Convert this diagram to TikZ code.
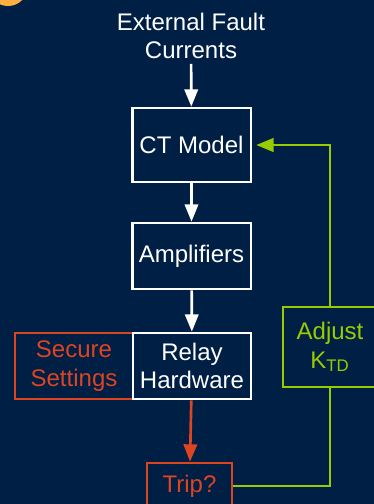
\documentclass[tikz,border=0pt]{standalone}
\usepackage{fontspec}
\setmainfont{Liberation Sans}
\usepackage{xcolor}
\usetikzlibrary{positioning,calc,arrows.meta}
\definecolor{navybg}{HTML}{001F44}
\definecolor{relayred}{HTML}{DD4422}
\definecolor{loopgreen}{HTML}{99CC00}
\definecolor{badgeorange}{HTML}{FBB040}

\begin{document}
\begin{tikzpicture}[x=0.75pt, y=-0.75pt,
    blk/.style={draw=white, line width=2pt, rectangle, text=white, align=center, minimum width=89pt, minimum height=49.5pt, inner sep=2pt, font=\fontsize{18}{21.5}\selectfont},
    redblk/.style={blk, draw=relayred, text=relayred},
    greenblk/.style={blk, draw=loopgreen, text=loopgreen, line width=2.2pt},
    flow/.style={line width=2pt, -{Triangle[length=13pt, width=10pt]}}
]
    \useasboundingbox (0,0) rectangle (374,504);
    \fill [navybg] (0,0) rectangle (374,504);
    \clip (0,0) rectangle (374,504);
    \fill [badgeorange] (8,-14) circle (20);

    \node [align=center, text=white, font=\fontsize{18}{21.5}\selectfont] (ext) at (191,36) {External Fault\\Currents};
    \node [blk, minimum height=55.5pt] (ct) at (191.5,145) {CT Model};
    \node [blk] (amp) at (191.5,256) {Amplifiers};
    \node [redblk, minimum width=88.5pt] (secure) at (74,366) {Secure\\Settings};
    \node [blk, minimum width=88.5pt] (relay) at (192,366) {Relay\\Hardware};
    \node [redblk, minimum width=63.75pt, minimum height=34.5pt] (trip) at (189.5,486) {Trip?};
    \node [greenblk, minimum width=70.5pt, minimum height=60pt] (adjust) at (330,347) {Adjust\\K\textsubscript{TD}};

    % main chain
    \draw [flow, white] (ext) -- (ct);
    \draw [flow, white] (ct) -- (amp);
    \draw [flow, white] (amp) -- (relay);
    \draw [flow, relayred] (relay) -- (trip);

    % feedback loop
    \draw [loopgreen, line width=2.2pt] (trip.east) -| (adjust.south);
    \draw [flow, loopgreen, line width=2.2pt, shorten >=3pt] (adjust.north) |- (ct.east);
\end{tikzpicture}
\end{document}
